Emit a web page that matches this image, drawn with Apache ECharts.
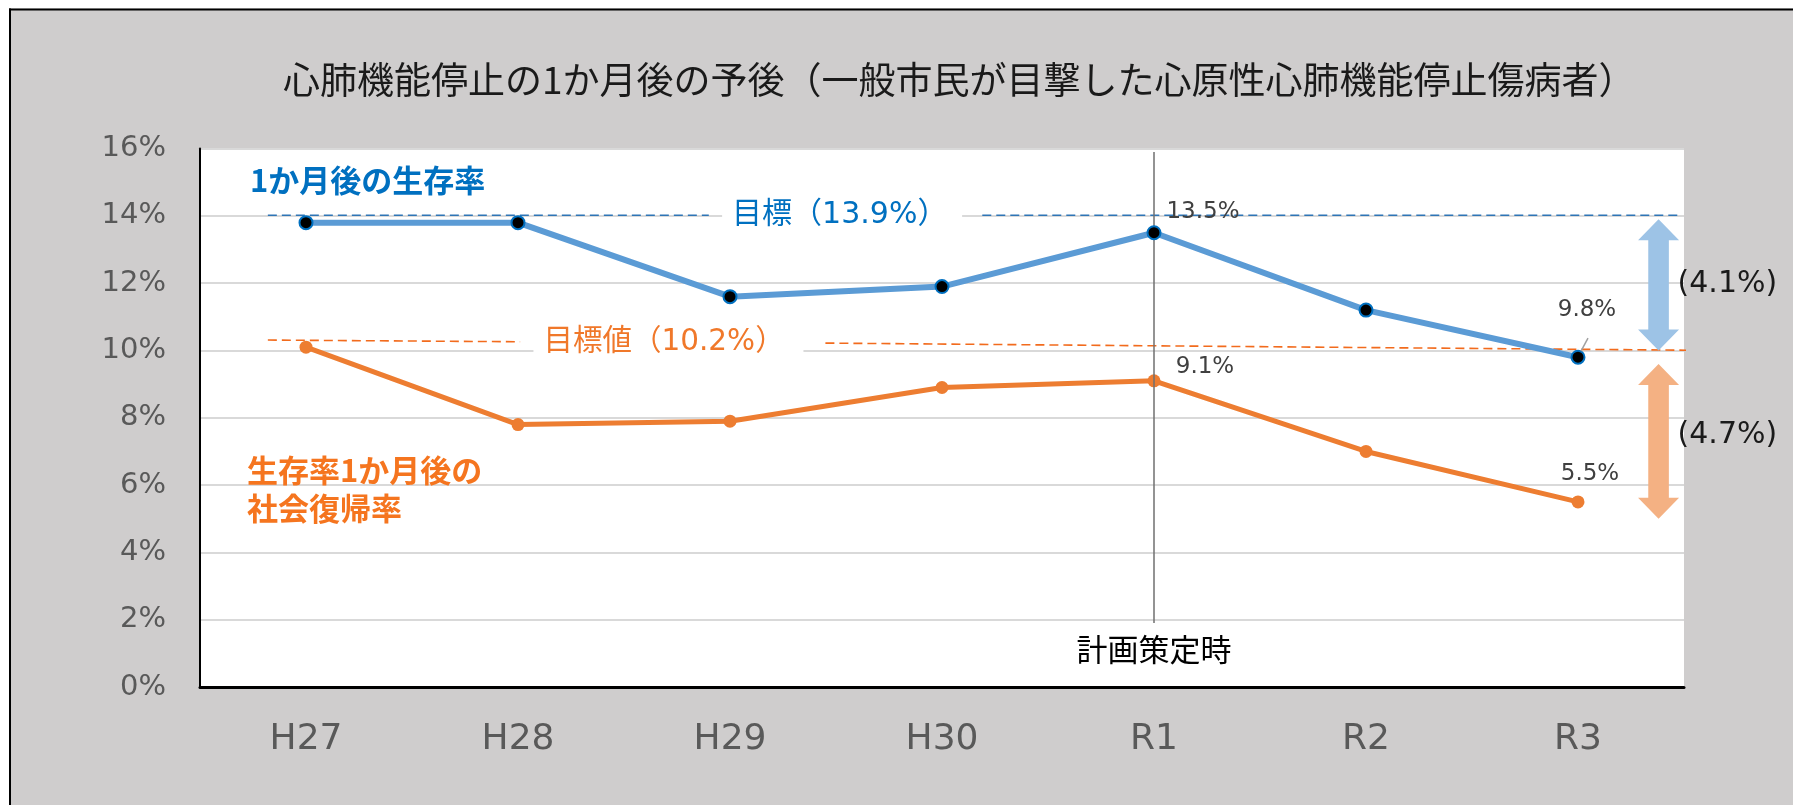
<!DOCTYPE html>
<html>
<head>
<meta charset="utf-8">
<script src="https://cdn.jsdelivr.net/npm/echarts@6/dist/echarts.min.js"></script>
<style>
  html, body { margin: 0; padding: 0; background: #fff; }
  #chart { width: 1793px; height: 805px; }
</style>
</head>
<body>
<div id="chart"></div>
<script>
// data
const years = ['H27', 'H28', 'H29', 'H30', 'R1', 'R2', 'R3']
const survival = [13.8, 13.8, 11.6, 11.9, 13.5, 11.2, 9.8]   // 1か月後の生存率
const social = [10.1, 7.8, 7.9, 8.9, 9.1, 7.0, 5.5]          // 生存率1か月後の社会復帰率
const labelledIdx = [4, 6]
const survivalGoalText = '目標（13.9%）'
const socialGoalText = '目標値（10.2%）'
const gapTexts = ['(4.1%)', '(4.7%)']
// dashed goal lines, [x index, %] pairs (x on a hidden value axis)
const survivalGoalLine = [[[-0.18, 14.02], [1.9, 14.02]], [[3.19, 14.02], [6.49, 14.02]]]
const socialGoalLine = [[[-0.18, 10.31], [1.01, 10.26]], [[2.45, 10.22], [6.88, 9.99]]]
// gap arrows [x index, top %, bottom %]
const gapArrows = [[6.38, 13.9, 10.0], [6.38, 9.6, 5.0]]
const planYear = 'R1'

const LATIN = "'DejaVu Sans','Noto Sans CJK JP'"
const CJK = "'Noto Sans CJK JP','DejaVu Sans'"
const BLUE = '#5B9BD5'
const ORANGE = '#ED7D31'

const chart = echarts.init(document.getElementById('chart'))

// label offsets for the R1 / R3 values
const labelOffsets = {
  survival: { 4: [49, -2], 6: [9, -28] },
  social: { 4: [51, 4], 6: [12, -10] },
}
function withLabels(values, key) {
  return values.map((v, i) => {
    if (!labelledIdx.includes(i)) return v
    return {
      value: v,
      label: {
        show: true, position: 'top', distance: 0, offset: labelOffsets[key][i],
        formatter: (p) => p.value.toFixed(1) + '%',
        fontFamily: LATIN, fontSize: 23, color: '#404040',
      },
    }
  })
}

function goalSeries(segments, color) {
  return segments.map(seg => ({
    type: 'line', xAxisIndex: 1, yAxisIndex: 0, data: seg, symbol: 'none',
    clip: false, silent: true, z: 3,
    lineStyle: { color, width: 1.6, type: [9, 5] },
  }))
}

chart.setOption({
  backgroundColor: '#CFCDCD',
  animation: false,
  title: {
    text: '心肺機能停止の1か月後の予後（一般市民が目撃した心原性心肺機能停止傷病者）',
    left: 278, top: 56,
    textStyle: { fontFamily: CJK, fontSize: 37, fontWeight: 'normal', color: '#1a1a1a' },
  },
  grid: { left: 200, right: 109, top: 148.6, bottom: 118, show: true, backgroundColor: '#fff', borderWidth: 0 },
  xAxis: [
    {
      type: 'category', data: years,
      axisLine: { lineStyle: { color: '#000', width: 3 } },
      axisTick: { show: false },
      axisLabel: { fontFamily: LATIN, fontSize: 36, color: '#595959', margin: 35 },
    },
    { type: 'value', min: -0.5, max: 6.5, show: false },
  ],
  yAxis: {
    type: 'value', min: 0, max: 16, interval: 2,
    axisLine: { show: true, onZero: false, lineStyle: { color: '#000', width: 2 } },
    axisTick: { show: false },
    splitLine: { lineStyle: { color: '#D9D9D9', width: 2 } },
    axisLabel: { formatter: '{value}%', fontFamily: LATIN, fontSize: 29, color: '#595959', margin: 34 },
  },
  series: [
    ...goalSeries(survivalGoalLine, '#2E75B6'),
    ...goalSeries(socialGoalLine, '#F26B1D'),
    {
      name: '1か月後の生存率', type: 'line', data: withLabels(survival, 'survival'), z: 5,
      symbol: 'circle', symbolSize: 13,
      lineStyle: { color: BLUE, width: 6 },
      itemStyle: { color: '#000', borderColor: '#0070C0', borderWidth: 2 },
      markLine: {
        symbol: 'none', silent: true, label: { show: false },
        lineStyle: { color: '#6F6F6F', width: 1.5, type: 'solid' },
        data: [[{ coord: [planYear, 15.9] }, { coord: [planYear, 1.9] }]],
      },
    },
    {
      name: '生存率1か月後の社会復帰率', type: 'line', data: withLabels(social, 'social'), z: 4,
      symbol: 'circle', symbolSize: 13,
      lineStyle: { color: ORANGE, width: 5 },
      itemStyle: { color: ORANGE },
    },
  ],
})

// annotations placed through the axes
function px(x, y, axis = 1) {
  return chart.convertToPixel({ xAxisIndex: axis, yAxisIndex: 0 }, [x, y])
}
function arrow([xi, top, bottom], color) {
  const [cx, yT] = px(xi, top)
  const yB = px(xi, bottom)[1]
  const hw = 20.5, sw = 10.3, hh = 21
  return {
    type: 'polygon', z: 10, silent: true,
    shape: { points: [
      [cx, yT], [cx + hw, yT + hh], [cx + sw, yT + hh], [cx + sw, yB - hh], [cx + hw, yB - hh],
      [cx, yB], [cx - hw, yB - hh], [cx - sw, yB - hh], [cx - sw, yT + hh], [cx - hw, yT + hh],
    ] },
    style: { fill: color },
  }
}
function text(x, y, str, style) {
  return { type: 'text', x, y, z: 10, silent: true, style: { text: str, textVerticalAlign: 'middle', ...style } }
}

const sg = px(2.01, survivalGoalLine[0][0][1])
const og = px(1.12, 10.25)
const blueLbl = px(-0.264, 15.07)
const orangeLbl = px(-0.278, 5.88)
const plan = px(planYear, 1.9, 0)
const r3 = px('R3', survival[6], 0)
const gapX = px(6.38, 0)[0] + 19

chart.setOption({
  graphic: [
    { type: 'rect', shape: { x: 0, y: 0, width: 1793, height: 8.5 }, style: { fill: '#fff' } },
    { type: 'rect', shape: { x: 0, y: 0, width: 9, height: 805 }, style: { fill: '#fff' } },
    { type: 'line', shape: { x1: 9, y1: 9.5, x2: 1793, y2: 9.5 }, style: { stroke: '#000', lineWidth: 2 } },
    { type: 'line', shape: { x1: 10, y1: 8.5, x2: 10, y2: 805 }, style: { stroke: '#000', lineWidth: 2 } },
    arrow(gapArrows[0], '#9DC3E6'),
    arrow(gapArrows[1], '#F4B183'),
    text(gapX, px(0, 11.97)[1], gapTexts[0], { fontFamily: LATIN, fontSize: 30, fill: '#1a1a1a' }),
    text(gapX, px(0, 7.48)[1], gapTexts[1], { fontFamily: LATIN, fontSize: 30, fill: '#1a1a1a' }),
    { type: 'rect', z: 9, shape: { x: sg[0] - 10, y: sg[1] - 18, width: 240, height: 36 }, style: { fill: '#fff' } },
    text(sg[0], sg[1], survivalGoalText, { fontFamily: LATIN, fontSize: 30, fill: '#0070C0' }),
    { type: 'rect', z: 9, shape: { x: og[0] - 10, y: og[1] - 18, width: 270, height: 36 }, style: { fill: '#fff' } },
    text(og[0], og[1], socialGoalText, { fontFamily: LATIN, fontSize: 29.5, fill: '#F0782A' }),
    text(blueLbl[0], blueLbl[1], '1か月後の生存率', { fontFamily: CJK, fontSize: 31, fontWeight: 'bold', fill: '#0070C0' }),
    text(orangeLbl[0], orangeLbl[1], '生存率1か月後の\n社会復帰率', { fontFamily: CJK, fontSize: 31, fontWeight: 'bold', fill: '#F5751F', lineHeight: 38 }),
    text(plan[0], plan[1] + 26, '計画策定時', { fontFamily: CJK, fontSize: 31, fill: '#000', textAlign: 'center' }),
    { type: 'line', z: 10, shape: { x1: r3[0] + 3, y1: r3[1] - 6, x2: r3[0] + 10, y2: r3[1] - 19 }, style: { stroke: '#A0A0A0', lineWidth: 1.5 } },
  ],
})
</script>
</body>
</html>
